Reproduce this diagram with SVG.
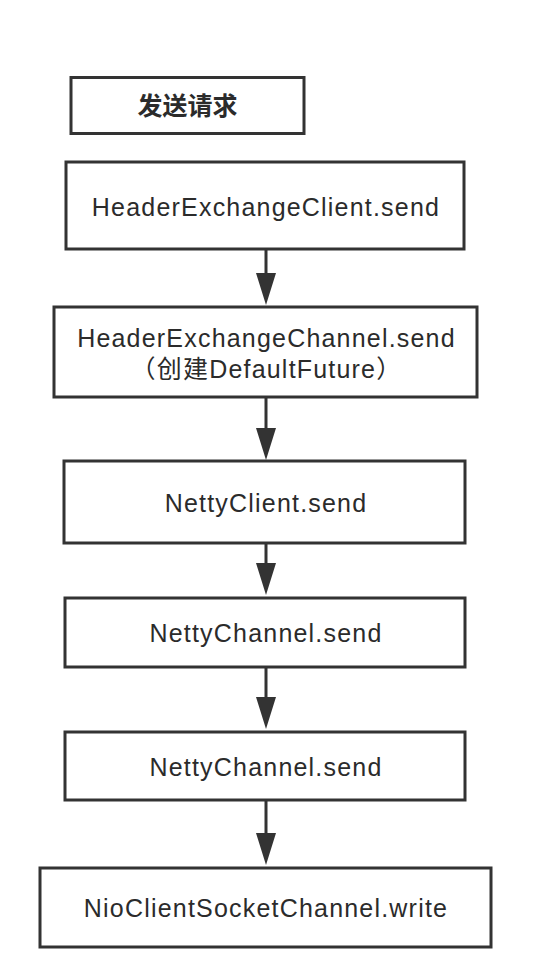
<svg xmlns="http://www.w3.org/2000/svg" width="546" height="980" viewBox="0 0 546 980">
<style>
.box{fill:#ffffff;stroke:#333333;stroke-width:3}
.lbl{font-family:"Liberation Sans","Noto Sans CJK SC",sans-serif;font-size:25px;fill:#2b2b2b;text-anchor:middle;letter-spacing:1.2px}
.cjk{font-family:"Noto Sans CJK SC",sans-serif;font-size:25px;font-weight:bold;fill:#2b2b2b;text-anchor:middle}
.conn{stroke:#333333;stroke-width:3;fill:none}
.head{fill:#333333}
</style>
<rect width="546" height="980" fill="#ffffff"/>
<g id="connectors">
<line class="conn" x1="266" y1="250" x2="266" y2="278"/>
<polygon class="head" points="256,273 276,273 266,305"/>
<line class="conn" x1="266" y1="398" x2="266" y2="432"/>
<polygon class="head" points="256,428 276,428 266,460"/>
<line class="conn" x1="266" y1="543" x2="266" y2="567"/>
<polygon class="head" points="256,563 276,563 266,595"/>
<line class="conn" x1="266" y1="667" x2="266" y2="701"/>
<polygon class="head" points="256,697 276,697 266,729"/>
<line class="conn" x1="266" y1="800" x2="266" y2="837"/>
<polygon class="head" points="256,833 276,833 266,865"/>
</g>
<g id="node-request">
<rect class="box" x="71" y="77.5" width="233" height="56"/>
<text class="cjk" x="187.5" y="114.5">发送请求</text>
</g>
<g id="node-header-exchange-client">
<rect class="box" x="66" y="162" width="398" height="87"/>
<text class="lbl" x="266" y="216">HeaderExchangeClient.send</text>
</g>
<g id="node-header-exchange-channel">
<rect class="box" x="54" y="307" width="423" height="90"/>
<text class="lbl" x="266.5" y="347">HeaderExchangeChannel.send</text>
<text class="lbl" x="266.5" y="378">（创建DefaultFuture）</text>
</g>
<g id="node-netty-client">
<rect class="box" x="64" y="461" width="401" height="82"/>
<text class="lbl" x="266" y="512">NettyClient.send</text>
</g>
<g id="node-netty-channel-1">
<rect class="box" x="65" y="598" width="400" height="69"/>
<text class="lbl" x="266" y="641.5">NettyChannel.send</text>
</g>
<g id="node-netty-channel-2">
<rect class="box" x="65" y="732" width="400" height="68"/>
<text class="lbl" x="266" y="775.5">NettyChannel.send</text>
</g>
<g id="node-nio-client-socket-channel">
<rect class="box" x="40" y="868" width="451" height="79"/>
<text class="lbl" x="266" y="917">NioClientSocketChannel.write</text>
</g>
</svg>
